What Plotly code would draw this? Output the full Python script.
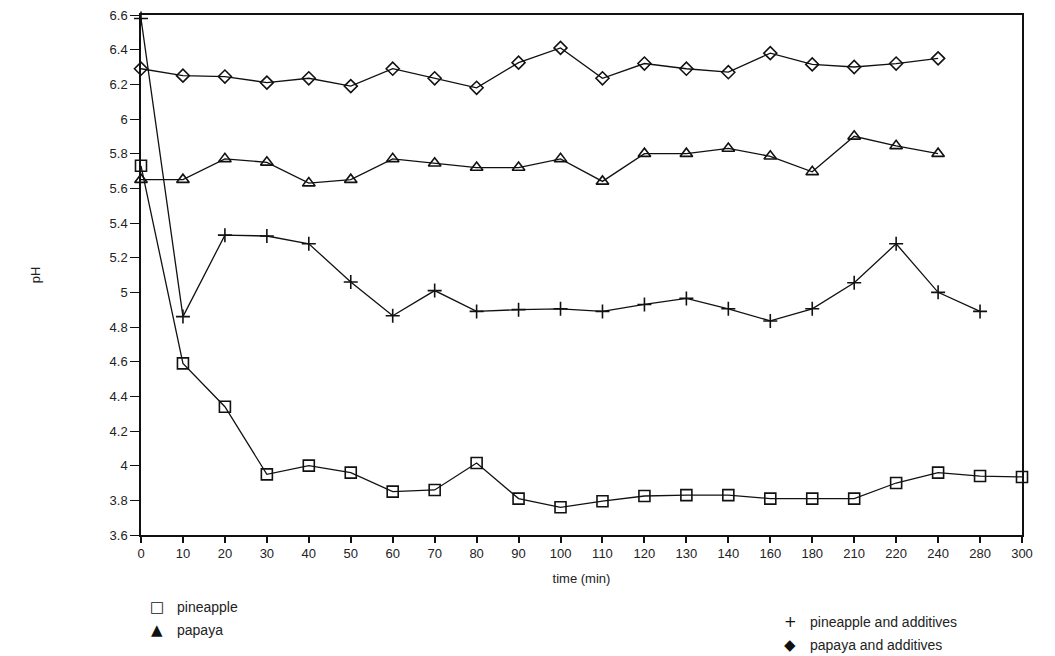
import plotly.graph_objects as go

time_labels = ["0", "10", "20", "30", "40", "50", "60", "70", "80", "90", "100",
               "110", "120", "130", "140", "160", "180", "210", "220", "240", "280", "300"]

pineapple = [5.73, 4.59, 4.34, 3.95, 4.00, 3.96, 3.85, 3.86, 4.015, 3.81, 3.76,
             3.795, 3.825, 3.83, 3.83, 3.81, 3.81, 3.81, 3.90, 3.96, 3.94, 3.935]
papaya = [5.65, 5.65, 5.77, 5.75, 5.63, 5.65, 5.77, 5.745, 5.72, 5.72, 5.77,
          5.64, 5.80, 5.80, 5.83, 5.785, 5.695, 5.90, 5.845, 5.80]
pineapple_add = [6.58, 4.86, 5.33, 5.325, 5.28, 5.06, 4.865, 5.01, 4.89, 4.90, 4.905,
                 4.89, 4.93, 4.965, 4.905, 4.835, 4.905, 5.055, 5.28, 5.00, 4.89]
papaya_add = [6.29, 6.25, 6.245, 6.21, 6.235, 6.19, 6.29, 6.235, 6.18, 6.325, 6.41,
              6.235, 6.32, 6.29, 6.27, 6.38, 6.315, 6.30, 6.32, 6.35]

y_ticks = [3.6, 3.8, 4, 4.2, 4.4, 4.6, 4.8, 5, 5.2, 5.4, 5.6, 5.8, 6, 6.2, 6.4, 6.6]

FONT = "Liberation Sans, Arial, sans-serif"
LINE = dict(color="#111111", width=1.3)

W, H = 1055, 656
ML, MR, MT, MB = 141, 33, 15, 121
PW, PH = W - ML - MR, H - MT - MB

fig = go.Figure()
fig.add_trace(go.Scatter(x=time_labels[:len(pineapple)], y=pineapple, mode="lines+markers",
                         line=LINE, cliponaxis=False,
                         marker=dict(symbol="square-open", size=11, color="#111111",
                                     line=dict(width=1.6))))
fig.add_trace(go.Scatter(x=time_labels[:len(papaya)], y=papaya, mode="lines+markers",
                         line=LINE, cliponaxis=False,
                         marker=dict(symbol="triangle-up-open", size=11, color="#111111",
                                     line=dict(width=1.6))))
fig.add_trace(go.Scatter(x=time_labels[:len(pineapple_add)], y=pineapple_add, mode="lines+markers",
                         line=LINE, cliponaxis=False,
                         marker=dict(symbol="cross-thin", size=10, color="#111111",
                                     line=dict(width=1.6, color="#111111"))))
fig.add_trace(go.Scatter(x=time_labels[:len(papaya_add)], y=papaya_add, mode="lines+markers",
                         line=LINE, cliponaxis=False,
                         marker=dict(symbol="diamond-open", size=10, color="#111111",
                                     line=dict(width=1.6))))

fig.update_layout(
    width=W, height=H,
    margin=dict(l=ML, r=MR, t=MT, b=MB),
    paper_bgcolor="white", plot_bgcolor="white",
    showlegend=False,
    font=dict(family=FONT, size=13, color="#222222"),
    xaxis=dict(type="category", categoryorder="array", categoryarray=time_labels,
               range=[0, len(time_labels) - 1], automargin=False,
               showline=True, linecolor="#111111", linewidth=1.5, mirror=True,
               ticks="outside", ticklen=6, tickcolor="#111111", tickwidth=1.5,
               showgrid=False, zeroline=False,
               tickfont=dict(size=13, family=FONT, color="#222222"),
               title=dict(text="time (min)", font=dict(size=13, family=FONT), standoff=14)),
    yaxis=dict(range=[3.6, 6.6], tickvals=y_ticks, automargin=False,
               showline=True, linecolor="#111111", linewidth=1.5, mirror=True,
               ticks="outside", ticklen=9, tickcolor="#111111", tickwidth=1.3,
               showgrid=False, zeroline=False,
               tickfont=dict(size=13, family=FONT, color="#222222"),
               title=dict(text="pH", font=dict(size=13, family=FONT), standoff=66)),
)

legend_items = [
    (157, 607, "\u25a1", "pineapple"),
    (157, 630, "\u25b2", "papaya"),
    (790, 622, "+", "pineapple and additives"),
    (790, 645, "\u25c6", "papaya and additives"),
]


def px_to_paper(px, py):
    return (px - ML) / PW, 1 - (py - MT) / PH


for px, py, sym, label in legend_items:
    sx, sy = px_to_paper(px, py)
    tx, _ = px_to_paper(px + 18, py)
    fig.add_annotation(x=sx, y=sy, xref="paper", yref="paper",
                       text=sym, showarrow=False, xanchor="center", yanchor="middle",
                       font=dict(size=15, family="DejaVu Sans", color="#111111"))
    fig.add_annotation(x=tx, y=sy, xref="paper", yref="paper",
                       text=label, showarrow=False, xanchor="left", yanchor="middle",
                       font=dict(size=14, family=FONT, color="#222222"))

fig.write_html("out.html", config={"displayModeBar": False},
               post_script="document.body.style.margin='0px';")
